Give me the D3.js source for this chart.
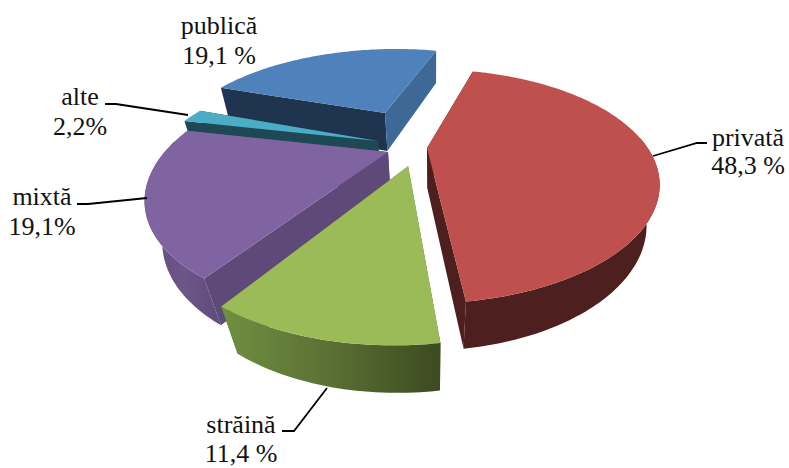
<!DOCTYPE html>
<html>
<head>
<meta charset="utf-8">
<script src="https://cdn.jsdelivr.net/npm/d3@7"></script>
<style>
  body { margin: 0; background: #fff; }
  text { font-family: "Liberation Serif", serif; font-size: 26px; fill: #111; }
</style>
</head>
<body>
<script>
// Data: order is clockwise from the blue slice
const categories = ['publică', 'privată', 'străină', 'mixtă', 'alte'];
// Printed labels, as they stand on the chart
const percentLabels = ['19,1 %', '48,3 %', '11,4 %', '19,1%', '2,2%'];
// Shares measured from the drawn slices. They differ from the printed labels
// for publică and privată: the original drawing does not follow its own labels.
const drawnShares = [23.8, 43.7, 11.0, 19.5, 2.0];

// Canvas
const width = 789;
const height = 468;

// Colours per slice
const topColors = ['#4f81bd', '#c0504d', '#9bbb59', '#8064a2', '#4bacc6'];
const startWallColors = ['#1f344f', '#4d1f1e', '#4c5f2b', '#5e4a78', '#1f4855'];
const endWallColors = ['#3e6997', '#4d1f1e', '#4c5f2b', '#5e4a78', '#1f4855'];
const outerWallColors = ['#3e6997', '#4d1f1e', 'url(#greenWall)', 'url(#purpleWall)', '#1f4855'];

// How far each slice is pulled out of the pie, in plane units
const explode = [[-56.5, 81], [-8, 4], [-25.6, -30], [-46.7, -4], [-58.6, 18]];

// Perspective camera fitted to the picture
const radiusX = 222;
const radiusY = 205;
const centerX = 435;
const horizonY = -170;
const planeScale = 320;
const planeDepth = 620;
const verticalVanishY = 920;
const pieThickness = 0.056;
const firstSliceAngle = -70.5;

function project(x, y, z) {
  const w = 1 + y / planeDepth;
  return [
    centerX + x / (w + z),
    (horizonY * w + planeScale + z * verticalVanishY) / (w + z)
  ];
}

const pie = d3.pie()
  .sort(null)
  .value(d => d)
  .startAngle(firstSliceAngle * Math.PI / 180)
  .endAngle((firstSliceAngle + 360) * Math.PI / 180);

const slices = pie(drawnShares);
const line = d3.line();

function rimPoint(a, i) {
  return [explode[i][0] + radiusX * Math.sin(a), explode[i][1] + radiusY * Math.cos(a)];
}

// Angles along the rim of one slice
function rimAngles(slice) {
  const steps = Math.ceil((slice.endAngle - slice.startAngle) / 0.02);
  return d3.range(steps + 1).map(k => slice.startAngle + (slice.endAngle - slice.startAngle) * k / steps);
}

function face(points, z) {
  return points.map(p => project(p[0], p[1], z));
}

function wall(points) {
  return line(face(points, 0).concat(face(points, pieThickness).reverse())) + 'Z';
}

const svg = d3.select('body')
  .append('svg')
  .attr('width', width)
  .attr('height', height)
  .style('display', 'block');

// Shaded outer walls
const defs = svg.append('defs');
function wallGradient(id, x1, x2, stops) {
  const g = defs.append('linearGradient')
    .attr('id', id)
    .attr('gradientUnits', 'userSpaceOnUse')
    .attr('x1', x1).attr('x2', x2)
    .attr('y1', 0).attr('y2', 0);
  stops.forEach((c, i) => {
    g.append('stop').attr('offset', i / (stops.length - 1)).attr('stop-color', c);
  });
}
wallGradient('greenWall', 223, 438, ['#708f41', '#5a7034', '#3d4b20']);
wallGradient('purpleWall', 147, 225, ['#65507f', '#6c5589', '#5e4a78']);

// Back to front: blue, teal, purple, red, green
const drawOrder = [0, 4, 3, 1, 2];

drawOrder.forEach(i => {
  const slice = slices[i];
  const angles = rimAngles(slice);
  const points = angles.map(a => rimPoint(a, i));
  const apex = explode[i];
  const g = svg.append('g');

  g.append('path')
    .attr('d', wall([apex, points[0]]))
    .attr('fill', startWallColors[i]);
  g.append('path')
    .attr('d', wall([apex, points[points.length - 1]]))
    .attr('fill', endWallColors[i]);

  // Only the part of the rim that faces the viewer shows a wall
  const frontRim = angles.filter(a => Math.cos(a) < 0.1).map(a => rimPoint(a, i));
  if (frontRim.length > 1) {
    g.append('path')
      .attr('d', wall(frontRim))
      .attr('fill', outerWallColors[i]);
  }

  g.append('path')
    .attr('d', line(face([apex].concat(points), 0)) + 'Z')
    .attr('fill', topColors[i]);
});

// Leader lines
const leaders = [
  [[653, 156], [697, 143], [707, 143]],
  [[105, 104], [116, 104], [188, 115]],
  [[77, 204], [88, 204], [147, 198]],
  [[282, 431], [294, 431], [327, 388]]
];
svg.selectAll('.leader')
  .data(leaders)
  .enter()
  .append('path')
  .attr('class', 'leader')
  .attr('d', d => line(d))
  .attr('fill', 'none')
  .attr('stroke', '#000')
  .attr('stroke-width', 1.8);

// Labels: centre x, first baseline and second baseline, in category order
const labelAnchors = [[219, 34, 64], [748, 146, 174], [241, 433, 462], [42, 205, 235], [80, 105, 135]];

const labels = svg.selectAll('.label')
  .data(categories)
  .enter()
  .append('text')
  .attr('class', 'label')
  .attr('text-anchor', 'middle');

labels.append('tspan')
  .attr('x', (d, i) => labelAnchors[i][0])
  .attr('y', (d, i) => labelAnchors[i][1])
  .text(d => d);

labels.append('tspan')
  .attr('x', (d, i) => labelAnchors[i][0])
  .attr('y', (d, i) => labelAnchors[i][2])
  .text((d, i) => percentLabels[i]);
</script>
</body>
</html>
